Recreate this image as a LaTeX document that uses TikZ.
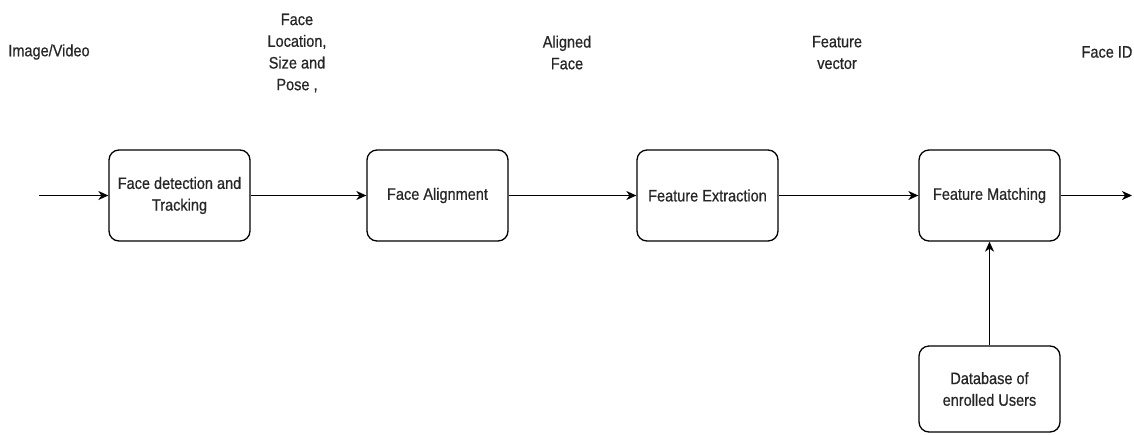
\documentclass[tikz,border=0pt]{standalone}
\usepackage{fontspec}
\setmainfont{Liberation Sans}[FakeStretch=0.88,FakeBold=0.6]
\usetikzlibrary{arrows.meta}
\begin{document}
\begin{tikzpicture}[x=1pt,y=-1pt,
  every node/.append style={font=\fontsize{16.5}{21.7}\selectfont, text=black!85},
  block/.style={draw, line width=1.3pt, rounded corners=10pt, minimum width=141pt, minimum height=91pt, align=center, inner sep=0pt},
  lbl/.style={align=center, inner sep=0pt},
  flow/.style={line width=1.3pt, -{Stealth[length=10pt,width=9pt,inset=3pt]}}]
\useasboundingbox (0,0) rectangle (1134,434);
\node[block] (det) at (179.5,195.5) {Face detection and\\Tracking};
\node[block] (ali) at (437.5,195.5) {Face Alignment};
\node[block] (ext) at (707.5,195.5) {Feature Extraction};
\node[block] (mat) at (989.5,195.5) {Feature Matching};
\node[block] (db) at (989.5,389) [minimum height=86pt] {Database of\\enrolled Users};
\coordinate (in) at (39,195.5);
\coordinate (out) at (1132,195.5);
\node[lbl] (limg) at (49,52) {Image/Video};
\node[lbl] (lloc) at (297,53) {Face\\Location,\\Size and\\Pose ,};
\node[lbl] (lali) at (567,52.5) {Aligned\\Face};
\node[lbl] (lvec) at (837,52.5) {Feature\\vector};
\node[lbl] (lid) at (1107,52) {Face ID};
\draw[flow] (in) -- (det);
\draw[flow] (det) -- (ali);
\draw[flow] (ali) -- (ext);
\draw[flow] (ext) -- (mat);
\draw[flow] (mat) -- (out);
\draw[flow] (db) -- (mat);
\end{tikzpicture}
\end{document}
